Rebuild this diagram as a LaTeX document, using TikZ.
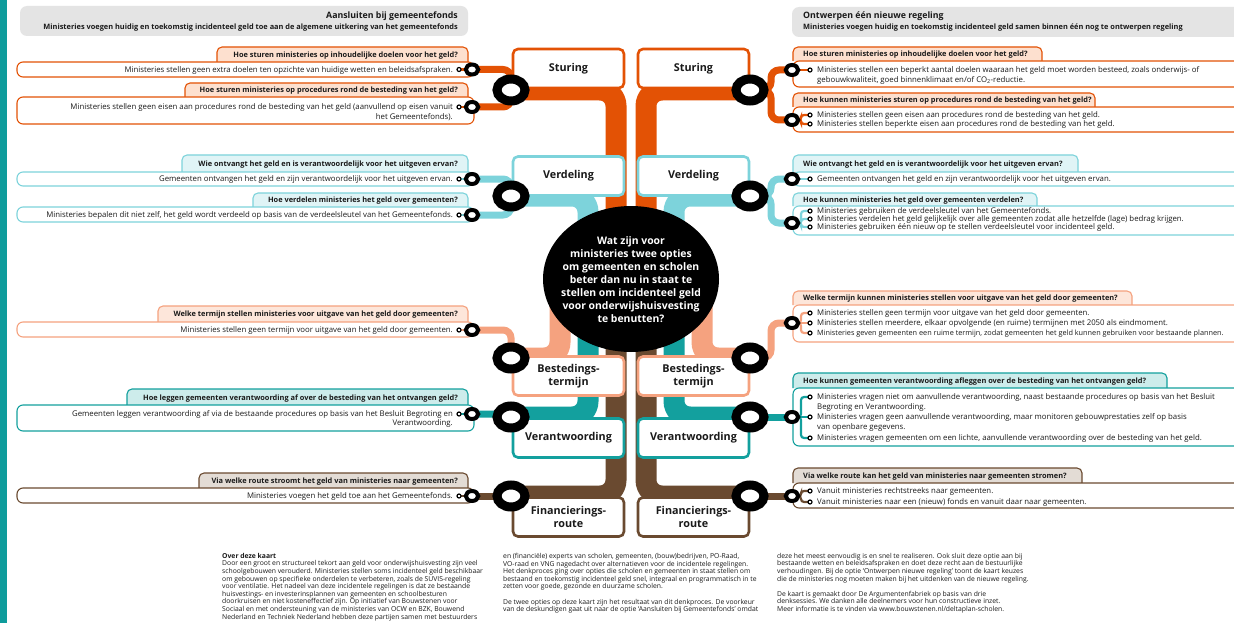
\documentclass[tikz,border=0pt]{standalone}
\usepackage{fontspec}
\setmainfont{Open Sans}
\usetikzlibrary{shapes.geometric}
\definecolor{cS}{HTML}{E35205}
\definecolor{cSf}{HTML}{FDE0CF}
\definecolor{cV}{HTML}{7DD3DB}
\definecolor{cVf}{HTML}{E0F4F6}
\definecolor{cB}{HTML}{F5A27F}
\definecolor{cBf}{HTML}{FDE6DA}
\definecolor{cA}{HTML}{13A09E}
\definecolor{cAf}{HTML}{CDECEB}
\definecolor{cF}{HTML}{6A4A30}
\definecolor{cFf}{HTML}{E3DCD5}
\definecolor{strip}{HTML}{0E9C9C}
\definecolor{hdr}{HTML}{E4E4E4}
\definecolor{txt}{HTML}{1A1A1A}
\pgfdeclarelayer{back}
\pgfdeclarelayer{bands}
\pgfdeclarelayer{mid}
\pgfdeclarelayer{links}
\pgfsetlayers{back,bands,mid,links,main}
\tikzset{
 qline/.style={line width=1.1},
 qtxt/.style={font=\fontsize{7.4}{8}\selectfont\bfseries, text=txt, inner sep=0},
 atxt/.style={font=\fontsize{7.8}{8}\selectfont, text=txt, inner sep=0},
 htit/.style={font=\fontsize{8.8}{10}\selectfont\bfseries, text=txt, inner sep=0},
 hsub/.style={font=\fontsize{7.4}{8}\selectfont\bfseries, text=txt, inner sep=0},
 cbox/.style={rectangle, rounded corners=5, line width=2.6, fill=white, minimum width=111, minimum height=39, inner sep=0, font=\fontsize{10.8}{12.5}\selectfont\bfseries, align=center, text=txt},
 bigring/.style={ellipse, draw=black, fill=white, line width=9, minimum width=28, minimum height=22, inner sep=0},
 smallring/.style={ellipse, draw=black, fill=white, line width=4, minimum width=12.5, minimum height=10, inner sep=0},
 mk/.style={circle, draw=black, fill=white, line width=1.2, minimum size=4, inner sep=0},
 band/.style={line width=21, rounded corners=16},
 link/.style={line width=7, rounded corners=8},
 mline/.style={line width=2.2, rounded corners=3},
 foot/.style={font=\fontsize{6.8}{7.6}\selectfont, text=txt, inner sep=0, align=left, anchor=north west},
}
\newcommand{\qtabL}[5]{\filldraw[draw=#1,fill=#2,qline,rounded corners=5] (#3,#5) -- (#3,#4) -- (468,#4) -- (468,#5);}
\newcommand{\qtabR}[5]{\filldraw[draw=#1,fill=#2,qline,rounded corners=5] (793,#5) -- (793,#4) -- (#3,#4) -- (#3,#5);}
\newcommand{\aboxL}[3]{\filldraw[draw=#1,fill=white,qline,rounded corners=6] (17,#2) rectangle (474,#3);}
\newcommand{\aboxR}[3]{\filldraw[draw=#1,fill=white,qline,rounded corners=6] (793,#2) rectangle (1262,#3);}
\begin{document}
\begin{tikzpicture}[x=1pt,y=-1pt]
\useasboundingbox (0,0) rectangle (1234,623);
\begin{pgfonlayer}{back}
\fill[white] (0,0) rectangle (1234,623);
\fill[strip] (0,0) rectangle (7,623);
\fill[hdr, rounded corners=7] (20,6) rectangle (468,36);
\fill[hdr, rounded corners=7] (792,7) rectangle (1262,37);
% left boxes
\qtabL{cS}{cSf}{217}{47}{62} \aboxL{cS}{62}{77}
\qtabL{cS}{cSf}{185}{83}{97} \aboxL{cS}{97}{124}
\qtabL{cV}{cVf}{182}{155}{172} \aboxL{cV}{172}{186}
\qtabL{cV}{cVf}{253}{193}{207} \aboxL{cV}{207}{222}
\qtabL{cB}{cBf}{158}{306}{322} \aboxL{cB}{322}{337}
\qtabL{cA}{cAf}{127}{389}{405} \aboxL{cA}{405}{431}
\qtabL{cF}{cFf}{199}{473}{488} \aboxL{cF}{488}{503}
% right boxes
\qtabR{cS}{cSf}{1042}{47}{61} \aboxR{cS}{61}{87}
\qtabR{cS}{cSf}{1095}{93}{107} \aboxR{cS}{107}{132}
\qtabR{cV}{cVf}{1078}{155}{172} \aboxR{cV}{172}{186}
\qtabR{cV}{cVf}{1037}{193}{206} \aboxR{cV}{206}{235}
\qtabR{cB}{cBf}{1132}{291}{305} \aboxR{cB}{305}{342}
\qtabR{cA}{cAf}{1167}{373}{388} \aboxR{cA}{388}{446}
\qtabR{cF}{cFf}{1082}{468}{483} \aboxR{cF}{483}{508}
\end{pgfonlayer}

\begin{scope}
\clip (0,0) rectangle (1234,623);
% rings
\node[bigring] (bLS) at (511,90) {};
\node[bigring] (bLV) at (511,196) {};
\node[bigring] (bLB) at (511,358) {};
\node[bigring] (bLA) at (511,417) {};
\node[bigring] (bLF) at (511,496) {};
\node[bigring] (bRS) at (750,90) {};
\node[bigring] (bRV) at (750,196) {};
\node[bigring] (bRB) at (750,358) {};
\node[bigring] (bRA) at (750,417) {};
\node[bigring] (bRF) at (750,496) {};
\node[smallring] (sL1) at (472,69.5) {};
\node[smallring] (sL2) at (472,107) {};
\node[smallring] (sL3) at (472,179) {};
\node[smallring] (sL4) at (472,215) {};
\node[smallring] (sL5) at (472,330) {};
\node[smallring] (sL6) at (472,414) {};
\node[smallring] (sL7) at (472,496) {};
\node[smallring] (sR1) at (792,70) {};
\node[smallring] (sR2) at (792,120) {};
\node[smallring] (sR3) at (792,179) {};
\node[smallring] (sR4) at (792,223) {};
\node[smallring] (sR5) at (792,323) {};
\node[smallring] (sR6) at (792,417) {};
\node[smallring] (sR7) at (792,496) {};
% markers
\node[mk] (mL1) at (459,69.5) {};
\node[mk] (mL2) at (459,107) {};
\node[mk] (mL3) at (459,179) {};
\node[mk] (mL4) at (459,215) {};
\node[mk] (mL5) at (459,330) {};
\node[mk] (mL6) at (459,414) {};
\node[mk] (mL7) at (459,496) {};
\node[mk] (mR1) at (810,70) {};
\node[mk] (mR2a) at (810,115) {};
\node[mk] (mR2b) at (810,124) {};
\node[mk] (mR3) at (810,179) {};
\node[mk] (mR4a) at (810,211) {};
\node[mk] (mR4b) at (810,219) {};
\node[mk] (mR4c) at (810,227) {};
\node[mk] (mR5a) at (810,313) {};
\node[mk] (mR5b) at (810,323) {};
\node[mk] (mR5c) at (810,333) {};
\node[mk] (mR6a) at (810,397) {};
\node[mk] (mR6b) at (810,417) {};
\node[mk] (mR6c) at (810,438) {};
\node[mk] (mR7a) at (810,491) {};
\node[mk] (mR7b) at (810,502) {};

% band end points
\coordinate (eLS) at (616,250);
\coordinate (eLV) at (588,250);
\coordinate (eLB) at (560,300);
\coordinate (eLA) at (588,310);
\coordinate (eLF) at (616,310);
\coordinate (eRS) at (646,250);
\coordinate (eRV) at (674,250);
\coordinate (eRB) at (702,300);
\coordinate (eRA) at (674,310);
\coordinate (eRF) at (646,310);

\begin{pgfonlayer}{bands}
\draw[band,cS] (bLS.center) -| (eLS);
\draw[band,cV] (bLV.center) -| (eLV);
\draw[band,cB] (bLB.center) -| (eLB);
\draw[band,cA] (bLA.center) -| (eLA);
\draw[band,cF] (bLF.center) -| (eLF);
\draw[band,cS] (bRS.center) -| (eRS);
\draw[band,cV] (bRV.center) -| (eRV);
\draw[band,cB] (bRB.center) -| (eRB);
\draw[band,cA] (bRA.center) -| (eRA);
\draw[band,cF] (bRF.center) -| (eRF);
\end{pgfonlayer}

\begin{pgfonlayer}{mid}
\node[ellipse, fill=black, minimum width=176, minimum height=146, inner sep=0] (hub) at (631,279) {};
\node[text=white, align=center, inner sep=0, font=\fontsize{10.4}{13}\selectfont\bfseries] (hubtxt) at (631,279.5) {Wat zijn voor\\ministeries twee opties\\om gemeenten en scholen\\beter dan nu in staat te\\stellen om incidenteel geld\\voor onderwijshuisvesting\\te benutten?};
\node[cbox, draw=cS] (cLS) at (568.5,68.5) {Sturing};
\node[cbox, draw=cS] (cRS) at (693.5,68.5) {Sturing};
\node[cbox, draw=cV] (cLV) at (568.5,176) {Verdeling};
\node[cbox, draw=cV] (cRV) at (693.5,176) {Verdeling};
\node[cbox, draw=cB] (cLB) at (568.5,376) {Bestedings-\\termijn};
\node[cbox, draw=cB] (cRB) at (693.5,376) {Bestedings-\\termijn};
\node[cbox, draw=cA] (cLA) at (568.5,438) {Verantwoording};
\node[cbox, draw=cA] (cRA) at (693.5,438) {Verantwoording};
\node[cbox, draw=cF] (cLF) at (568.5,517) {Financierings-\\route};
\node[cbox, draw=cF] (cRF) at (693.5,517) {Financierings-\\route};
\end{pgfonlayer}

\begin{pgfonlayer}{links}
\draw[link,cS] (sL1.center) -| (bLS.center);
\draw[link,cS] (sL2.center) -| (bLS.center);
\draw[link,cV] (sL3.center) -| (bLV.center);
\draw[link,cV] (sL4.center) -| (bLV.center);
\draw[link,cB] (sL5.center) -| (bLB.center);
\draw[link,cA] (sL6.center) -| (bLA.center);
\draw[link,cF] (sL7.center) -- (bLF.center);
\draw[link,cS] (bRS.center) -- ++(21,0) |- (sR1.center);
\draw[link,cS] (bRS.center) -- ++(21,0) |- (sR2.center);
\draw[link,cV] (bRV.center) -- ++(21,0) |- (sR3.center);
\draw[link,cV] (bRV.center) -- ++(21,0) |- (sR4.center);
\draw[link,cB] (bRB.center) -- ++(21,0) |- (sR5.center);
\draw[link,cA] (bRA.center) -- (sR6.center);
\draw[link,cF] (bRF.center) -- (sR7.center);
\draw[mline,cS] (mL1.center) -- (sL1.center);
\draw[mline,cS] (mL2.center) -- (sL2.center);
\draw[mline,cV] (mL3.center) -- (sL3.center);
\draw[mline,cV] (mL4.center) -- (sL4.center);
\draw[mline,cB] (mL5.center) -- (sL5.center);
\draw[mline,cA] (mL6.center) -- (sL6.center);
\draw[mline,cF] (mL7.center) -- (sL7.center);
\draw[mline,cS] (sR1.center) -- (mR1.center);
\draw[mline,cS] (sR2.center) -- ++(9,0) |- (mR2a.center);
\draw[mline,cS] (sR2.center) -- ++(9,0) |- (mR2b.center);
\draw[mline,cV] (sR3.center) -- (mR3.center);
\draw[mline,cV] (sR4.center) -- ++(9,0) |- (mR4a.center);
\draw[mline,cV] (sR4.center) -- ++(9,0) |- (mR4b.center);
\draw[mline,cV] (sR4.center) -- ++(9,0) |- (mR4c.center);
\draw[mline,cB] (sR5.center) -- ++(9,0) |- (mR5a.center);
\draw[mline,cB] (sR5.center) -- (mR5b.center);
\draw[mline,cB] (sR5.center) -- ++(9,0) |- (mR5c.center);
\draw[mline,cA] (sR6.center) -- ++(9,0) |- (mR6a.center);
\draw[mline,cA] (sR6.center) -- (mR6b.center);
\draw[mline,cA] (sR6.center) -- ++(9,0) |- (mR6c.center);
\draw[mline,cF] (sR7.center) -- ++(9,0) |- (mR7a.center);
\draw[mline,cF] (sR7.center) -- ++(9,0) |- (mR7b.center);
\end{pgfonlayer}

% headers
\node[htit, anchor=mid east] (hL1) at (458,16) {Aansluiten bij gemeentefonds};
\node[hsub, anchor=mid east] (hL2) at (458,27) {Ministeries voegen huidig en toekomstig incidenteel geld toe aan de algemene uitkering van het gemeentefonds};
\node[htit, anchor=mid west] (hR1) at (803,16) {Ontwerpen één nieuwe regeling};
\node[hsub, anchor=mid west] (hR2) at (803,27) {Ministeries voegen huidig en toekomstig incidenteel geld samen binnen één nog te ontwerpen regeling};

% left questions and answers
\node[qtxt, anchor=mid east] (qL1) at (458,54.5) {Hoe sturen ministeries op inhoudelijke doelen voor het geld?};
\node[atxt, anchor=mid east] (aL1) at (453,69.5) {Ministeries stellen geen extra doelen ten opzichte van huidige wetten en beleidsafspraken.};
\node[qtxt, anchor=mid east] (qL2) at (458,90) {Hoe sturen ministeries op procedures rond de besteding van het geld?};
\node[atxt, anchor=mid east] (aL2a) at (453,107) {Ministeries stellen geen eisen aan procedures rond de besteding van het geld (aanvullend op eisen vanuit};
\node[atxt, anchor=mid east] (aL2b) at (453,117) {het Gemeentefonds).};
\node[qtxt, anchor=mid east] (qL3) at (458,164) {Wie ontvangt het geld en is verantwoordelijk voor het uitgeven ervan?};
\node[atxt, anchor=mid east] (aL3) at (453,179) {Gemeenten ontvangen het geld en zijn verantwoordelijk voor het uitgeven ervan.};
\node[qtxt, anchor=mid east] (qL4) at (458,200) {Hoe verdelen ministeries het geld over gemeenten?};
\node[atxt, anchor=mid east] (aL4) at (453,215) {Ministeries bepalen dit niet zelf, het geld wordt verdeeld op basis van de verdeelsleutel van het Gemeentefonds.};
\node[qtxt, anchor=mid east] (qL5) at (458,314) {Welke termijn stellen ministeries voor uitgave van het geld door gemeenten?};
\node[atxt, anchor=mid east] (aL5) at (453,330) {Ministeries stellen geen termijn voor uitgave van het geld door gemeenten.};
\node[qtxt, anchor=mid east] (qL6) at (458,397.5) {Hoe leggen gemeenten verantwoording af over de besteding van het ontvangen geld?};
\node[atxt, anchor=mid east] (aL6a) at (453,414) {Gemeenten leggen verantwoording af via de bestaande procedures op basis van het Besluit Begroting en};
\node[atxt, anchor=mid east] (aL6b) at (453,423) {Verantwoording.};
\node[qtxt, anchor=mid east] (qL7) at (458,481) {Via welke route stroomt het geld van ministeries naar gemeenten?};
\node[atxt, anchor=mid east] (aL7) at (453,496) {Ministeries voegen het geld toe aan het Gemeentefonds.};

% right questions and answers
\node[qtxt, anchor=mid west] (qR1) at (803,54) {Hoe sturen ministeries op inhoudelijke doelen voor het geld?};
\node[atxt, anchor=mid west] (aR1a) at (817,70) {Ministeries stellen een beperkt aantal doelen waaraan het geld moet worden besteed, zoals onderwijs- of};
\node[atxt, anchor=mid west] (aR1b) at (817,80) {gebouwkwaliteit, goed binnenklimaat en/of CO\textsubscript{2}-reductie.};
\node[qtxt, anchor=mid west] (qR2) at (803,100) {Hoe kunnen ministeries sturen op procedures rond de besteding van het geld?};
\node[atxt, anchor=mid west] (aR2a) at (817,115) {Ministeries stellen geen eisen aan procedures rond de besteding van het geld.};
\node[atxt, anchor=mid west] (aR2b) at (817,124) {Ministeries stellen beperkte eisen aan procedures rond de besteding van het geld.};
\node[qtxt, anchor=mid west] (qR3) at (803,164) {Wie ontvangt het geld en is verantwoordelijk voor het uitgeven ervan?};
\node[atxt, anchor=mid west] (aR3) at (817,179) {Gemeenten ontvangen het geld en zijn verantwoordelijk voor het uitgeven ervan.};
\node[qtxt, anchor=mid west] (qR4) at (803,200) {Hoe kunnen ministeries het geld over gemeenten verdelen?};
\node[atxt, anchor=mid west] (aR4a) at (817,211) {Ministeries gebruiken de verdeelsleutel van het Gemeentefonds.};
\node[atxt, anchor=mid west] (aR4b) at (817,219) {Ministeries verdelen het geld gelijkelijk over alle gemeenten zodat alle hetzelfde (lage) bedrag krijgen.};
\node[atxt, anchor=mid west] (aR4c) at (817,227) {Ministeries gebruiken één nieuw op te stellen verdeelsleutel voor incidenteel geld.};
\node[qtxt, anchor=mid west] (qR5) at (803,298) {Welke termijn kunnen ministeries stellen voor uitgave van het geld door gemeenten?};
\node[atxt, anchor=mid west] (aR5a) at (817,313) {Ministeries stellen geen termijn voor uitgave van het geld door gemeenten.};
\node[atxt, anchor=mid west] (aR5b) at (817,323) {Ministeries stellen meerdere, elkaar opvolgende (en ruime) termijnen met 2050 als eindmoment.};
\node[atxt, anchor=mid west, font=\fontsize{7.3}{8}\selectfont] (aR5c) at (817,333) {Ministeries geven gemeenten een ruime termijn, zodat gemeenten het geld kunnen gebruiken voor bestaande plannen.};
\node[qtxt, anchor=mid west] (qR6) at (803,381) {Hoe kunnen gemeenten verantwoording afleggen over de besteding van het ontvangen geld?};
\node[atxt, anchor=mid west] (aR6a) at (817,397) {Ministeries vragen niet om aanvullende verantwoording, naast bestaande procedures op basis van het Besluit};
\node[atxt, anchor=mid west] (aR6b) at (817,407) {Begroting en Verantwoording.};
\node[atxt, anchor=mid west] (aR6c) at (817,417) {Ministeries vragen geen aanvullende verantwoording, maar monitoren gebouwprestaties zelf op basis};
\node[atxt, anchor=mid west] (aR6d) at (817,426.5) {van openbare gegevens.};
\node[atxt, anchor=mid west] (aR6e) at (817,438) {Ministeries vragen gemeenten om een lichte, aanvullende verantwoording over de besteding van het geld.};
\node[qtxt, anchor=mid west] (qR7) at (803,476) {Via welke route kan het geld van ministeries naar gemeenten stromen?};
\node[atxt, anchor=mid west] (aR7a) at (817,491) {Vanuit ministeries rechtstreeks naar gemeenten.};
\node[atxt, anchor=mid west] (aR7b) at (817,502) {Vanuit ministeries naar een (nieuw) fonds en vanuit daar naar gemeenten.};

% footer
\node[foot] (f1) at (222,553) {\textbf{Over deze kaart}\\
Door een groot en structureel tekort aan geld voor onderwijshuisvesting zijn veel\\
schoolgebouwen verouderd. Ministeries stellen soms incidenteel geld beschikbaar\\
om gebouwen op specifieke onderdelen te verbeteren, zoals de SUVIS-regeling\\
voor ventilatie. Het nadeel van deze incidentele regelingen is dat ze bestaande\\
huisvestings- en investerinsplannen van gemeenten en schoolbesturen\\
doorkruisen en niet kosteneffectief zijn. Op initiatief van Bouwstenen voor\\
Sociaal en met ondersteuning van de ministeries van OCW en BZK, Bouwend\\
Nederland en Techniek Nederland hebben deze partijen samen met bestuurders};
\node[foot] (f2) at (503,553) {en (financiële) experts van scholen, gemeenten, (bouw)bedrijven, PO-Raad,\\
VO-raad en VNG nagedacht over alternatieven voor de incidentele regelingen.\\
Het denkproces ging over opties die scholen en gemeenten in staat stellen om\\
bestaand en toekomstig incidenteel geld snel, integraal en programmatisch in te\\
zetten voor goede, gezonde en duurzame scholen.\\[7.6pt]
De twee opties op deze kaart zijn het resultaat van dit denkproces. De voorkeur\\
van de deskundigen gaat uit naar de optie ‘Aansluiten bij Gemeentefonds’ omdat};
\node[foot] (f3) at (777,553) {deze het meest eenvoudig is en snel te realiseren. Ook sluit deze optie aan bij\\
bestaande wetten en beleidsafspraken en doet deze recht aan de bestuurlijke\\
verhoudingen. Bij de optie ‘Ontwerpen nieuwe regeling’ toont de kaart keuzes\\
die de ministeries nog moeten maken bij het uitdenken van de nieuwe regeling.\\[7.6pt]
De kaart is gemaakt door De Argumentenfabriek op basis van drie\\
denksessies. We danken alle deelnemers voor hun constructieve inzet.\\
Meer informatie is te vinden via www.bouwstenen.nl/deltaplan-scholen.};
\end{scope}
\end{tikzpicture}
\end{document}
